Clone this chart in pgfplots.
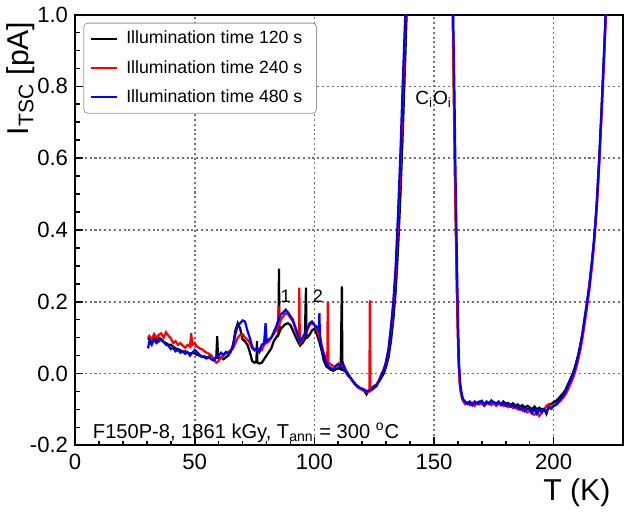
\documentclass[border=0pt]{standalone}
\usepackage{fontspec}
\setmainfont{Liberation Sans}
\usepackage{pgfplots}
\pgfplotsset{compat=1.18}
\begin{document}
\begin{tikzpicture}
\begin{axis}[
  scale only axis,
  width=271.5bp, height=213.5bp,
  xmin=0, xmax=229, ymin=-0.2, ymax=1.0,
  xtick={0,50,100,150,200},
  ytick={-0.2,0,0.2,0.4,0.6,0.8,1.0},
  minor x tick num=4, minor y tick num=3,
  tick align=inside, xtick pos=left, ytick pos=left,
  major tick length=4bp, minor tick length=2.4bp,
  axis line style={line width=1bp},
  tick style={black, line width=0.8bp},
  grid=major,
  major grid style={draw=black!55, line width=0.8bp, dash pattern=on 1bp off 1.4bp},
  /pgf/number format/assume math mode=true,
  ticklabel style={font=\fontsize{11}{13}\selectfont},
  yticklabel style={/pgf/number format/.cd, fixed, fixed zerofill, precision=1},
  xticklabel style={yshift=-1bp},
  xlabel={T (K)},
  ylabel={I$_{\mathrm{TSC}}$ [pA]},
  label style={font=\fontsize{15}{17}\selectfont},
  xlabel style={at={(axis description cs:0.99,-0.06)}, anchor=north east},
  ylabel style={at={(axis description cs:-0.085,1)}, anchor=base east},
  legend style={at={(axis description cs:0.015,0.981)}, anchor=north west,
    draw=gray!80, rounded corners=2pt, font=\fontsize{8.8}{11}\selectfont,
    row sep=2.6bp, inner xsep=3bp, inner ysep=2bp,
    nodes={inner xsep=4bp}},
  legend cell align=left,
  legend image code/.code={\draw[#1] (0bp,0bp) -- (13bp,0bp);},
  clip=true,
]
\addplot[black, line width=1.1bp] table {
30.5 0.095
31 0.1
32 0.09
33 0.098
34 0.092
35 0.1
36 0.095
37 0.088
38 0.085
39 0.08
40 0.08
41 0.075
42 0.07
43 0.068
44 0.065
45 0.06
46 0.062
47 0.058
48 0.055
49 0.058
50 0.056
51 0.052
52 0.05
53 0.046
54 0.048
55 0.044
56 0.045
57 0.04
58 0.042
59 0.045
59.4 0.104
59.7 0.045
60 0.042
61 0.045
62 0.04
63 0.045
64 0.05
65 0.06
66 0.08
67 0.12
68 0.14
69 0.125
70 0.095
71 0.09
72 0.08
73 0.06
74 0.035
75 0.03
75.8 0.035
76 0.09
76.2 0.03
77 0.028
78 0.03
79 0.04
80 0.05
81 0.06
82 0.07
83 0.09
84 0.1
85 0.11
85.2 0.292
85.4 0.115
86 0.125
87 0.132
88 0.138
89 0.14
90 0.135
91 0.12
92 0.105
93 0.09
94 0.078
95 0.085
96 0.095
96.5 0.239
96.7 0.1
97 0.1
98 0.108
99 0.12
100 0.125
101 0.11
102 0.09
103 0.065
104 0.035
105 0.02
106 0.015
107 0.01
108 0.008
109 0.012
110 0.015
111 0.012
111.5 0.243
111.7 0.015
112 0.01
113 0.005
114 -0.005
115 -0.012
116 -0.02
117 -0.028
118 -0.035
119 -0.04
120 -0.045
121 -0.05
121.8 -0.058
122.5 -0.048
123 -0.045
124 -0.04
125 -0.035
126 -0.03
127 -0.022
128 -0.012
129 0.0
130 0.02
131 0.045
132 0.09
133 0.15
134 0.23
135 0.35
136 0.5
137 0.68
138 0.88
138.8 1.05
139.5 1.3
145 2
155 2
157.3 1.3
157.8 1.05
158.3 0.8
158.8 0.56
159.3 0.36
159.8 0.17
160.3 0.04
160.8 -0.025
161.3 -0.05
162 -0.07
163 -0.08
164 -0.083
165 -0.078
166 -0.086
167 -0.08
168 -0.084
169 -0.078
170 -0.08
171 -0.085
172 -0.078
173 -0.083
174 -0.076
175 -0.08
176 -0.083
177 -0.08
178 -0.086
179 -0.078
180 -0.084
181 -0.082
182 -0.088
183 -0.083
184 -0.09
185 -0.086
186 -0.092
187 -0.088
188 -0.095
189 -0.09
190 -0.094
191 -0.1
192 -0.092
193 -0.1
194 -0.095
195 -0.1
196 -0.098
197 -0.112
198 -0.09
199 -0.085
200 -0.08
201 -0.076
202 -0.07
203 -0.062
204 -0.055
205 -0.045
206 -0.03
207 -0.015
208 0.0
209 0.02
210 0.045
211 0.075
212 0.11
213 0.155
214 0.2
215 0.25
216 0.31
217 0.38
218 0.47
219 0.59
220 0.73
221 0.88
221.8 1.0
222.4 1.1
};
\addlegendentry{Illumination time 120 s}
\addplot[red, line width=1.1bp] table {
30.5 0.1
31 0.105
32 0.095
33 0.11
34 0.1
35 0.108
36 0.112
37 0.1
38 0.115
39 0.105
40 0.098
41 0.085
42 0.09
43 0.08
44 0.085
45 0.078
46 0.072
47 0.08
48 0.075
48.5 0.112
49 0.08
50 0.085
51 0.075
52 0.07
53 0.068
54 0.062
55 0.058
56 0.055
57 0.05
58 0.04
59 0.03
60 0.035
61 0.045
62 0.05
63 0.056
64 0.06
65 0.065
66 0.07
67 0.085
68 0.1
69 0.108
70 0.11
71 0.1
72 0.095
73 0.085
74 0.07
75 0.065
76 0.068
77 0.07
78 0.065
79 0.08
79.5 0.112
80 0.085
81 0.09
82 0.1
83 0.11
84 0.12
84.8 0.13
85 0.188
85.2 0.135
86 0.15
87 0.16
88 0.168
89 0.165
90 0.155
91 0.145
92 0.125
93 0.105
93.5 0.1
93.7 0.239
93.9 0.1
94 0.085
95 0.095
96 0.11
97 0.12
98 0.135
99 0.14
100 0.135
101 0.125
102 0.105
103 0.08
104 0.055
105 0.04
105.4 0.035
105.6 0.199
105.8 0.035
106 0.03
107 0.025
108 0.02
109 0.022
110 0.028
111 0.02
112 0.022
113 0.012
114 0.0
115 -0.012
116 -0.022
117 -0.03
118 -0.038
119 -0.042
120 -0.046
121 -0.048
122 -0.052
123 -0.05
123.2 0.204
123.4 -0.048
124 -0.045
125 -0.04
126 -0.032
127 -0.018
128 -0.002
129 0.012
130 0.03
131 0.065
132 0.12
133 0.19
134 0.28
135 0.42
136 0.58
137 0.78
138 0.97
138.6 1.1
139.5 1.3
145 2
155 2
157.2 1.3
157.7 1.05
158.2 0.8
158.7 0.56
159.2 0.36
159.7 0.17
160.2 0.04
160.7 -0.025
161.2 -0.055
162 -0.075
163 -0.085
164 -0.08
165 -0.088
166 -0.082
167 -0.09
168 -0.08
169 -0.086
170 -0.082
171 -0.09
172 -0.084
173 -0.08
174 -0.088
175 -0.082
176 -0.09
177 -0.085
178 -0.082
179 -0.09
180 -0.088
181 -0.094
182 -0.09
183 -0.096
184 -0.092
185 -0.1
186 -0.096
187 -0.104
188 -0.1
189 -0.108
190 -0.104
191 -0.112
192 -0.115
193 -0.108
194 -0.118
195 -0.11
196 -0.1
197 -0.09
198 -0.085
199 -0.095
200 -0.09
201 -0.088
202 -0.082
203 -0.075
204 -0.068
205 -0.058
206 -0.045
207 -0.03
208 -0.015
209 0.005
210 0.03
211 0.06
212 0.095
213 0.14
214 0.185
215 0.235
216 0.295
217 0.365
218 0.455
219 0.57
220 0.71
221 0.86
221.9 1.0
222.5 1.1
};
\addlegendentry{Illumination time 240 s}
\addplot[blue, line width=1.1bp] table {
30.5 0.07
31 0.09
32 0.08
33 0.095
34 0.085
35 0.09
36 0.095
37 0.088
38 0.08
39 0.078
40 0.068
41 0.072
42 0.062
43 0.066
44 0.058
45 0.062
46 0.055
47 0.06
48 0.05
49 0.058
50 0.066
51 0.06
52 0.052
53 0.048
54 0.045
55 0.042
56 0.048
57 0.04
58 0.036
59 0.045
60 0.05
61 0.058
62 0.052
63 0.06
64 0.055
65 0.062
66 0.075
67 0.11
68 0.135
69 0.14
70 0.148
71 0.145
72 0.12
73 0.1
74 0.075
75 0.065
76 0.07
77 0.06
78 0.08
79 0.085
79.6 0.14
80 0.09
81 0.095
82 0.1
83 0.115
84 0.13
85 0.15
86 0.165
87 0.17
88 0.178
89 0.17
90 0.16
91 0.15
92 0.13
93 0.11
94 0.09
95 0.1
96 0.11
97 0.125
98 0.14
99 0.145
100 0.135
101 0.13
101.9 0.12
102.1 0.168
102.3 0.11
103 0.075
104 0.05
105 0.03
106 0.02
107 0.015
108 0.012
109 0.02
110 0.025
111 0.018
112 0.028
113 0.01
114 0.0
115 -0.01
116 -0.02
117 -0.03
118 -0.035
119 -0.04
120 -0.042
121 -0.045
122 -0.05
123 -0.047
124 -0.045
125 -0.04
126 -0.035
127 -0.02
128 -0.005
129 0.01
130 0.035
131 0.07
132 0.13
133 0.2
134 0.3
135 0.45
136 0.62
137 0.82
138 1.0
138.5 1.1
139.5 1.3
145 2
155 2
157.5 1.2
158 1.0
158.5 0.8
159 0.55
159.5 0.35
160 0.15
160.5 0.02
161 -0.03
161.5 -0.055
162 -0.07
163 -0.078
164 -0.085
165 -0.08
166 -0.088
167 -0.078
168 -0.085
169 -0.08
170 -0.076
171 -0.088
172 -0.08
173 -0.085
174 -0.075
175 -0.082
176 -0.085
177 -0.078
178 -0.088
179 -0.082
180 -0.09
181 -0.085
182 -0.092
183 -0.088
184 -0.095
185 -0.09
186 -0.1
187 -0.095
188 -0.105
189 -0.098
190 -0.1
191 -0.11
192 -0.098
193 -0.112
194 -0.1
195 -0.108
196 -0.1
197 -0.105
198 -0.095
199 -0.098
200 -0.09
201 -0.085
202 -0.078
203 -0.07
204 -0.062
205 -0.05
206 -0.035
207 -0.02
208 -0.005
209 0.015
210 0.04
211 0.07
212 0.11
213 0.155
214 0.2
215 0.25
216 0.31
217 0.38
218 0.47
219 0.59
220 0.73
221 0.88
221.7 1.0
222.3 1.1
};
\addlegendentry{Illumination time 480 s}
\node[anchor=base west, font=\fontsize{9.5}{11}\selectfont] at (axis cs:139.2,0.75) {C$_{\mathrm{i}}$O$_{\mathrm{i}}$};
\node[anchor=base, font=\fontsize{9}{11}\selectfont] at (axis cs:88,0.197) {1};
\node[anchor=base, font=\fontsize{9}{11}\selectfont] at (axis cs:101.5,0.197) {2};
\node[anchor=base west, font=\fontsize{10}{12}\selectfont] at (axis cs:4.5,-0.18) {F150P-8, 1861 kGy, T$_{\mathrm{ann}}$ = 300 $^{\mathrm{o}}$C};
\end{axis}
\end{tikzpicture}
\end{document}
